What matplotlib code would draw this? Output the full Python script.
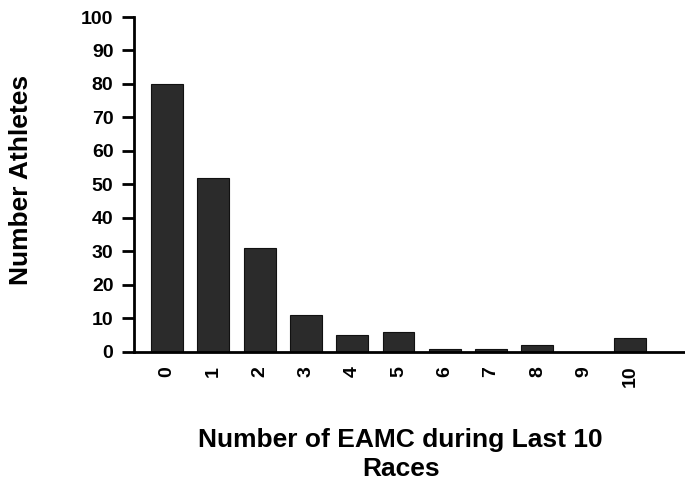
import matplotlib
matplotlib.use("Agg")
import matplotlib.pyplot as plt

# EAMC counts over the last 10 races
races = [0, 1, 2, 3, 4, 5, 6, 7, 8, 9, 10]
athletes = [80, 52, 31, 11, 5, 6, 1, 1, 2, 0, 4]
y_ticks = [0, 10, 20, 30, 40, 50, 60, 70, 80, 90, 100]

plt.rcParams['font.family'] = ['Liberation Sans', 'DejaVu Sans']
plt.rcParams['font.weight'] = 'bold'

fig = plt.figure(figsize=(6.85, 4.86), dpi=100)
ax = fig.add_axes([0.196, 0.276, 0.802, 0.689])

ax.bar(races, athletes, width=0.69, color='#2b2b2b', edgecolor='#111111', linewidth=0.8)

ax.set_xlim(-0.71, 11.16)
ax.set_ylim(0, 100)
ax.set_yticks(y_ticks)
ax.set_xticks(races)
ax.set_xticklabels([str(r) for r in races], rotation=90, fontsize=14, fontweight='bold')
ax.set_yticklabels([str(v) for v in y_ticks], fontsize=14, fontweight='bold')

for side in ['top', 'right']:
    ax.spines[side].set_visible(False)
for side in ['left', 'bottom']:
    ax.spines[side].set_linewidth(2)
ax.tick_params(axis='y', direction='out', length=9, width=2, pad=6)
ax.tick_params(axis='x', length=0, pad=10)

fig.text(0.03, 0.63, 'Number Athletes', rotation=90, ha='center', va='center',
         fontsize=19, fontweight='bold')
fig.text(0.585, 0.065, 'Number of EAMC during Last 10\nRaces', ha='center', va='center',
         fontsize=19, fontweight='bold', linespacing=1.3)

fig.savefig('out.png', dpi=100)
